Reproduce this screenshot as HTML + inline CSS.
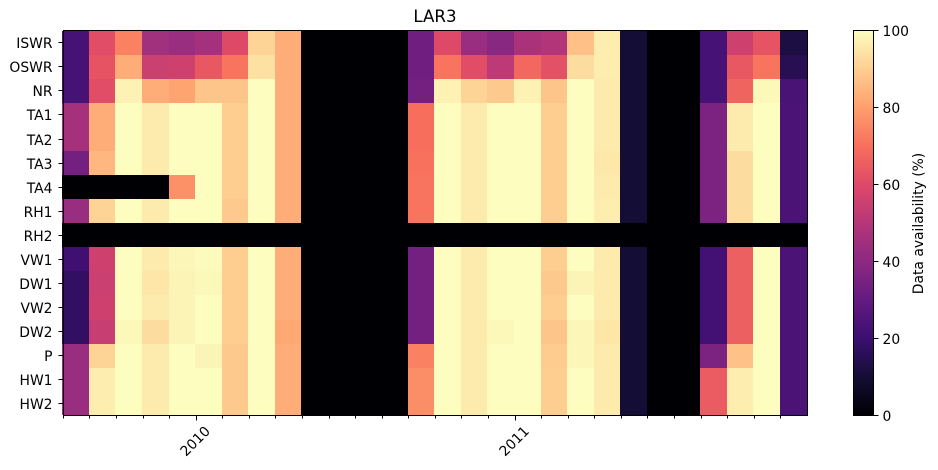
<!DOCTYPE html>
<html lang="en">
<head>
<meta charset="utf-8">
<title>LAR3 data availability heatmap</title>
<style>
  html, body { margin: 0; padding: 0; background: #fff; }
  body { width: 938px; height: 470px; overflow: hidden; }
  svg { display: block; font-family: "DejaVu Sans", "Liberation Sans", sans-serif; }
  text { fill: #000; font-size: 13.89px; }
</style>
</head>
<body>
<svg id="chart" width="938" height="470" viewBox="0 0 938 470" xmlns="http://www.w3.org/2000/svg">
  <defs>
    <linearGradient id="magma-gradient" x1="0" y1="1" x2="0" y2="0">
      <stop offset="0" stop-color="#000004"/>
      <stop offset="0.1" stop-color="#140e36"/>
      <stop offset="0.2" stop-color="#3b0f70"/>
      <stop offset="0.3" stop-color="#641a80"/>
      <stop offset="0.4" stop-color="#8c2981"/>
      <stop offset="0.5" stop-color="#b63679"/>
      <stop offset="0.6" stop-color="#de4968"/>
      <stop offset="0.7" stop-color="#f76f5c"/>
      <stop offset="0.8" stop-color="#fe9f6d"/>
      <stop offset="0.9" stop-color="#fece91"/>
      <stop offset="1" stop-color="#fcfdbf"/>
    </linearGradient>
  </defs>
  <text x="435" y="22" text-anchor="middle" style="font-size:16.67px">LAR3</text>
  <g id="cells" shape-rendering="crispEdges"></g>
  <g id="x-axis"></g>
  <g id="y-axis"></g>
  <rect x="63.5" y="30.5" width="744" height="385" fill="none" stroke="#000" stroke-width="1"/>
  <rect x="853" y="31" width="20" height="384" fill="url(#magma-gradient)"/>
  <rect x="853.5" y="30.5" width="20" height="385" fill="none" stroke="#000" stroke-width="1"/>
  <g id="colorbar-axis"></g>
  <text transform="translate(923,223.5) rotate(-90)" text-anchor="middle">Data availability (%)</text>
</svg>
<script>
const months = ['2009-08','2009-09','2009-10','2009-11','2009-12','2010-01','2010-02','2010-03','2010-04','2010-05','2010-06','2010-07','2010-08','2010-09','2010-10','2010-11','2010-12','2011-01','2011-02','2011-03','2011-04','2011-05','2011-06','2011-07','2011-08','2011-09','2011-10','2011-11'];
const sensors = ['ISWR','OSWR','NR','TA1','TA2','TA3','TA4','RH1','RH2','VW1','DW1','VW2','DW2','P','HW1','HW2'];
const iswr = [23,61,74,45,43,46,60,91,83,0,0,0,0,33,60,43,39,47,49,87,96.5,10,0,0,23,56,63,12];
const oswr = [23,63,83,55,56,64,71,94,83,0,0,0,0,33,71,61,52,68,62,93,96.5,10,0,0,23,64,71,15];
const nr   = [23,61,97.5,83,81,88,88,100,83,0,0,0,0,34,97.5,91,89,97.5,88,100,96,10,0,0,23,67,99,23.5];
const ta1  = [46,83,100,96,100,100,90,100,83,0,0,0,0,70,100,96,100,100,90,100,96,10,0,0,36,96,100,24];
const ta2  = [46,83,100,96,100,100,90,100,83,0,0,0,0,70,100,96,100,100,90,100,96,10,0,0,36,96,100,24];
const ta3  = [34,85,100,96,100,100,90,100,83,0,0,0,0,70.5,100,96,100,100,90,100,95.5,10,0,0,36,93,100,24];
const ta4  = [0,0,0,0,77,100,90,100,83,0,0,0,0,71,100,96,100,100,90,100,96,10,0,0,36,93,100,24];
const rh1  = [43,91,100,96,100,100,89,100,83,0,0,0,0,71,100,96,100,100,90,100,96.5,10,0,0,36,93,100,24];
const rh2  = [0,0,0,0,0,0,0,0,0,0,0,0,0,0,0,0,0,0,0,0,0,0,0,0,0,0,0,0];
const vw1  = [21,56,100,96,98.5,99.5,90,100,83,0,0,0,0,34,100,96,100,100,90,100,96,10,0,0,22,66,100,24];
const dw1  = [18,55,100,95,98,99,90,100,83,0,0,0,0,34,100,96,100,100,89,98,96,10,0,0,22,66,100,24];
const vw2  = [18,56,100,96,98,100,90,100,83,0,0,0,0,34,100,96,100,100,90,100,96,10,0,0,22,66,100,24];
const dw2  = [18,54,99,93,98,100,90,100,82,0,0,0,0,34,100,96,99,100,88,98.5,95,10,0,0,22,66,100,24];
const p    = [43,91,100,96,100,98,89,100,83,0,0,0,0,74,100,96,100,100,89.5,98.5,96,10,0,0,36,87.5,100,24];
const hw1  = [43,96.5,100,96,100,100,89,100,83,0,0,0,0,76.5,100,96,100,100,90,100,96,10,0,0,65,96.5,100,24];
const hw2  = [43,96.5,100,96,100,100,89,100,83,0,0,0,0,76.5,100,96,100,100,90,100,96,10,0,0,65,96.5,100,24];
const colorbarTicks = [0,20,40,60,80,100];

const series = [iswr,oswr,nr,ta1,ta2,ta3,ta4,rh1,rh2,vw1,dw1,vw2,dw2,p,hw1,hw2];
const magma = [[0,0,4],[20,14,54],[59,15,112],[100,26,128],[140,41,129],[182,54,121],[222,73,104],[247,111,92],[254,159,109],[254,206,145],[252,253,191]];
const NS = 'http://www.w3.org/2000/svg';
const colStep = 744 / months.length;
const rowStep = 385 / sensors.length;

function xEdge(i) { return i >= months.length ? 807 : Math.floor(62.8 + i * colStep); }
function yEdge(i) { return i >= sensors.length ? 415 : (i === 0 ? 31 : Math.floor(31.3 + i * rowStep)); }
function xTick(i) { return Math.floor(63.3 + i * colStep) + 0.5; }
function yTick(i) { return Math.floor(42.8 + i * rowStep) + 0.5; }
function cbScale(v) { return 415.5 - v * 3.85; }
function colour(v) {
  const t = Math.max(0, Math.min(1, v / 100)) * (magma.length - 1);
  const i = Math.min(Math.floor(t), magma.length - 2);
  const f = t - i;
  const c = magma[i].map(function (a, k) { return Math.round(a + (magma[i + 1][k] - a) * f); });
  return 'rgb(' + c.join(',') + ')';
}
function make(tag, attrs, parent) {
  const el = document.createElementNS(NS, tag);
  Object.keys(attrs).forEach(function (k) { el.setAttribute(k, attrs[k]); });
  parent.appendChild(el);
  return el;
}

const cells = document.getElementById('cells');
series.forEach(function (row, r) {
  row.forEach(function (value, c) {
    const cell = make('rect', { x: xEdge(c), y: yEdge(r), width: xEdge(c + 1) - xEdge(c), height: yEdge(r + 1) - yEdge(r), fill: colour(value) }, cells);
    
    
  });
});

const xAxis = document.getElementById('x-axis');
months.forEach(function (m, i) {
  const isYear = m.slice(5) === '01';
  const x = xTick(i);
  const tick = make('line', { x1: x, x2: x, y1: 415.5, y2: isYear ? 420.5 : 418.5, stroke: '#000', 'stroke-width': 1 }, xAxis);
  
  
  if (isYear) {
    const label = make('text', { x: 0, y: 5, 'text-anchor': 'middle', transform: 'translate(' + (x - 1.5) + ',441) rotate(-45)' }, xAxis);
    label.textContent = m.slice(0, 4);
    
    
  }
});

const yAxis = document.getElementById('y-axis');
sensors.forEach(function (name, i) {
  const y = yTick(i);
  const tick = make('line', { x1: 58.5, x2: 63.5, y1: y, y2: y, stroke: '#000', 'stroke-width': 1 }, yAxis);
  
  
  const label = make('text', { x: 52.5, y: y + 5.5, 'text-anchor': 'end' }, yAxis);
  label.textContent = name;
  
  
});

const cbAxis = document.getElementById('colorbar-axis');
colorbarTicks.forEach(function (v) {
  const y = cbScale(v);
  const tick = make('line', { x1: 873.5, x2: 878.5, y1: y, y2: y, stroke: '#000', 'stroke-width': 1 }, cbAxis);
  
  
  const label = make('text', { x: 882.5, y: y + 5.5 }, cbAxis);
  label.textContent = String(v);
  
  
});
</script>
</body>
</html>
